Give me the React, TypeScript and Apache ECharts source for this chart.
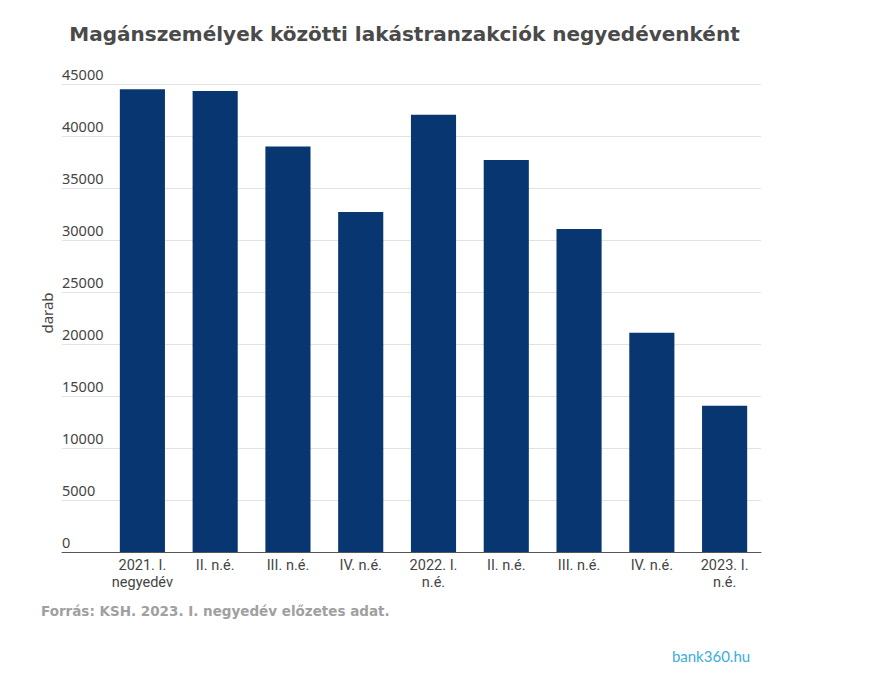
import React, { useEffect, useRef } from "react";
import * as echarts from "echarts";

const categories = [
  "2021. I.\nnegyedév",
  "II. n.é.",
  "III. n.é.",
  "IV. n.é.",
  "2022. I.\nn.é.",
  "II. n.é.",
  "III. n.é.",
  "IV. n.é.",
  "2023. I.\nn.é.",
];
const transactions = [44500, 44330, 39000, 32690, 42050, 37690, 31060, 21090, 14070];
const yMin = 0;
const yMax = 45000;
const yInterval = 5000;

const titleText = "Magánszemélyek közötti lakástranzakciók negyedévenként";
const yAxisTitle = "darab";
const sourceText = "Forrás: KSH. 2023. I. negyedév előzetes adat.";
const logoText = "bank360.hu";

export default function App() {
  const ref = useRef<HTMLDivElement>(null);
  useEffect(() => {
    document.body.style.margin = "0";
    const chart = echarts.init(ref.current!, null, { renderer: "svg" });
    const top = 84;
    const bottom = 686 - 552;
    const right = 879 - 761;
    chart.setOption({
      animation: false,
      backgroundColor: "#ffffff",
      grid: [
        { left: 62, right: right, top: top, bottom: bottom, containLabel: false },
        { left: 106, right: right, top: top, bottom: bottom, containLabel: false },
      ],
      xAxis: [
        {
          gridIndex: 0,
          type: "value",
          min: 0,
          max: 1,
          axisLine: { show: true, onZero: false, lineStyle: { color: "#555555", width: 1 } },
          axisTick: { show: false },
          axisLabel: { show: false },
          splitLine: { show: false },
        },
        {
          gridIndex: 1,
          type: "category",
          data: categories,
          axisLine: { show: false },
          axisTick: { show: false },
          axisLabel: {
            interval: 0,
            margin: 5,
            fontFamily: "Roboto",
            fontSize: 14.5,
            lineHeight: 17,
            color: "#444444",
          },
        },
      ],
      yAxis: [
        {
          gridIndex: 0,
          type: "value",
          min: yMin,
          max: yMax,
          interval: yInterval,
          axisLine: { show: false },
          axisTick: { show: false },
          splitLine: { show: true, lineStyle: { color: "#e2e2e2", width: 1 } },
          axisLabel: {
            inside: false,
            margin: 0,
            align: "left",
            verticalAlign: "bottom",
            padding: [0, 0, 2, 0],
            lineHeight: 16,
            fontFamily: "Noto Sans",
            fontSize: 14.5,
            color: "#444444",
            formatter: (v: number) => String(v),
          },
        },
        {
          gridIndex: 1,
          type: "value",
          min: yMin,
          max: yMax,
          interval: yInterval,
          show: false,
          splitLine: { show: false },
        },
      ],
      series: [
        {
          type: "bar",
          xAxisIndex: 1,
          yAxisIndex: 1,
          data: transactions,
          barWidth: "62%",
          itemStyle: { color: "#073670" },
          silent: true,
        },
      ],
      graphic: [
        {
          type: "text",
          x: 404.5,
          y: 34,
          style: {
            text: titleText,
            fontFamily: "DejaVu Sans",
            fontWeight: "bold",
            fontSize: 20,
            fill: "#4a4a4a",
            align: "center",
            verticalAlign: "middle",
          },
        },
        {
          type: "text",
          x: 47,
          y: 313,
          rotation: Math.PI / 2,
          style: {
            text: yAxisTitle,
            fontFamily: "Noto Sans",
            fontSize: 15,
            fill: "#444444",
            align: "center",
            verticalAlign: "middle",
          },
        },
        {
          type: "text",
          x: 41,
          y: 611,
          style: {
            text: sourceText,
            fontFamily: "DejaVu Sans",
            fontWeight: "bold",
            fontSize: 13.5,
            fill: "#a0a0a0",
            align: "left",
            verticalAlign: "middle",
          },
        },
        {
          type: "text",
          x: 711,
          y: 656,
          style: {
            text: logoText,
            fontFamily: "Lato",
            fontSize: 15,
            fill: "#3aaedb",
            align: "center",
            verticalAlign: "middle",
          },
        },
      ],
    });
    return () => chart.dispose();
  }, []);
  return <div ref={ref} style={{ width: 879, height: 686 }} />;
}
